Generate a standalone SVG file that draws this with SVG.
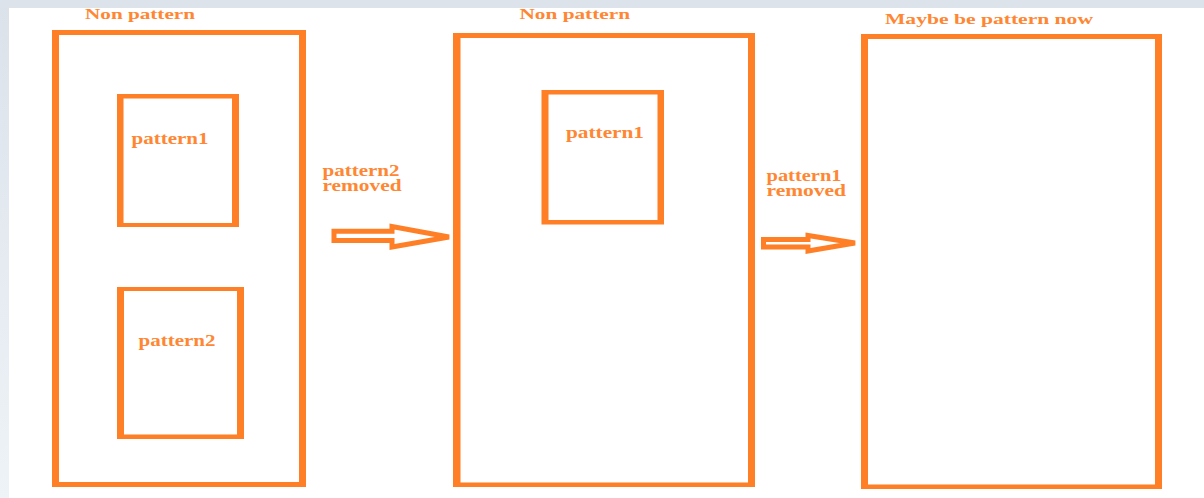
<svg xmlns="http://www.w3.org/2000/svg" width="1204" height="498" viewBox="0 0 1204 498">
<defs>
<linearGradient id="side" x1="0" y1="0" x2="0" y2="1">
<stop offset="0" stop-color="#dbe2ea"/>
<stop offset="1" stop-color="#eef3f7"/>
</linearGradient>
<style>
.frame{fill:#ff7f27;fill-rule:evenodd}
.arrow{fill:#ffffff;stroke:#ff7f27;stroke-width:5;stroke-linejoin:miter}
.lbl{font-family:"Liberation Serif","Times New Roman",serif;font-weight:bold;font-size:16px;fill:#ff8632}
.ttl{font-size:15px}
</style>
</defs>
<rect x="0" y="0" width="1204" height="498" fill="#ffffff"/>
<rect x="0" y="0" width="9" height="498" fill="url(#side)"/>
<rect x="0" y="0" width="1204" height="8" fill="#dce3ea"/>

<g id="panel1">
<path class="frame" d="M52,30 H306 V487 H52 Z M59,35 V482 H299 V35 Z"/>
<text class="lbl ttl" x="85" y="19" textLength="110" lengthAdjust="spacingAndGlyphs">Non pattern</text>
</g>
<g id="panel1-pattern1">
<path class="frame" d="M117,94 H239 V227 H117 Z M123.5,98.5 V223 H232 V98.5 Z"/>
<text class="lbl" x="131.5" y="144" textLength="77" lengthAdjust="spacingAndGlyphs">pattern1</text>
</g>
<g id="panel1-pattern2">
<path class="frame" d="M117,287 H244 V439 H117 Z M124,291 V434.5 H237 V291 Z"/>
<text class="lbl" x="138.5" y="346" textLength="77" lengthAdjust="spacingAndGlyphs">pattern2</text>
</g>

<g id="panel2">
<path class="frame" d="M453,33 H755 V487 H453 Z M460.5,38 V482.5 H748 V38 Z"/>
<text class="lbl ttl" x="519.5" y="18.5" textLength="110.5" lengthAdjust="spacingAndGlyphs">Non pattern</text>
</g>
<g id="panel2-pattern1">
<path class="frame" d="M541.5,90 H664 V224.5 H541.5 Z M548.5,94.5 V220 H657.5 V94.5 Z"/>
<text class="lbl" x="566" y="138" textLength="78" lengthAdjust="spacingAndGlyphs">pattern1</text>
</g>

<g id="panel3">
<path class="frame" d="M861,34 H1162 V489 H861 Z M868,39 V484.5 H1155 V39 Z"/>
<text class="lbl ttl" x="885" y="23.5" textLength="208" lengthAdjust="spacingAndGlyphs">Maybe be pattern now</text>
</g>

<g id="connectors">
<path class="arrow" d="M334,231.2 H392 V226.5 L449,237 L392,247 V240.5 H334 Z"/>
<text class="lbl" x="322.5" y="176" textLength="77" lengthAdjust="spacingAndGlyphs">pattern2</text>
<text class="lbl" x="322.5" y="191" textLength="79" lengthAdjust="spacingAndGlyphs">removed</text>
<path class="arrow" stroke-width="4.5" d="M763.5,239.5 H808 V235.5 L855,243 L808,251 V247 H763.5 Z"/>
<text class="lbl" x="766.5" y="181" textLength="75" lengthAdjust="spacingAndGlyphs">pattern1</text>
<text class="lbl" x="766.5" y="196" textLength="79.5" lengthAdjust="spacingAndGlyphs">removed</text>
</g>
</svg>
